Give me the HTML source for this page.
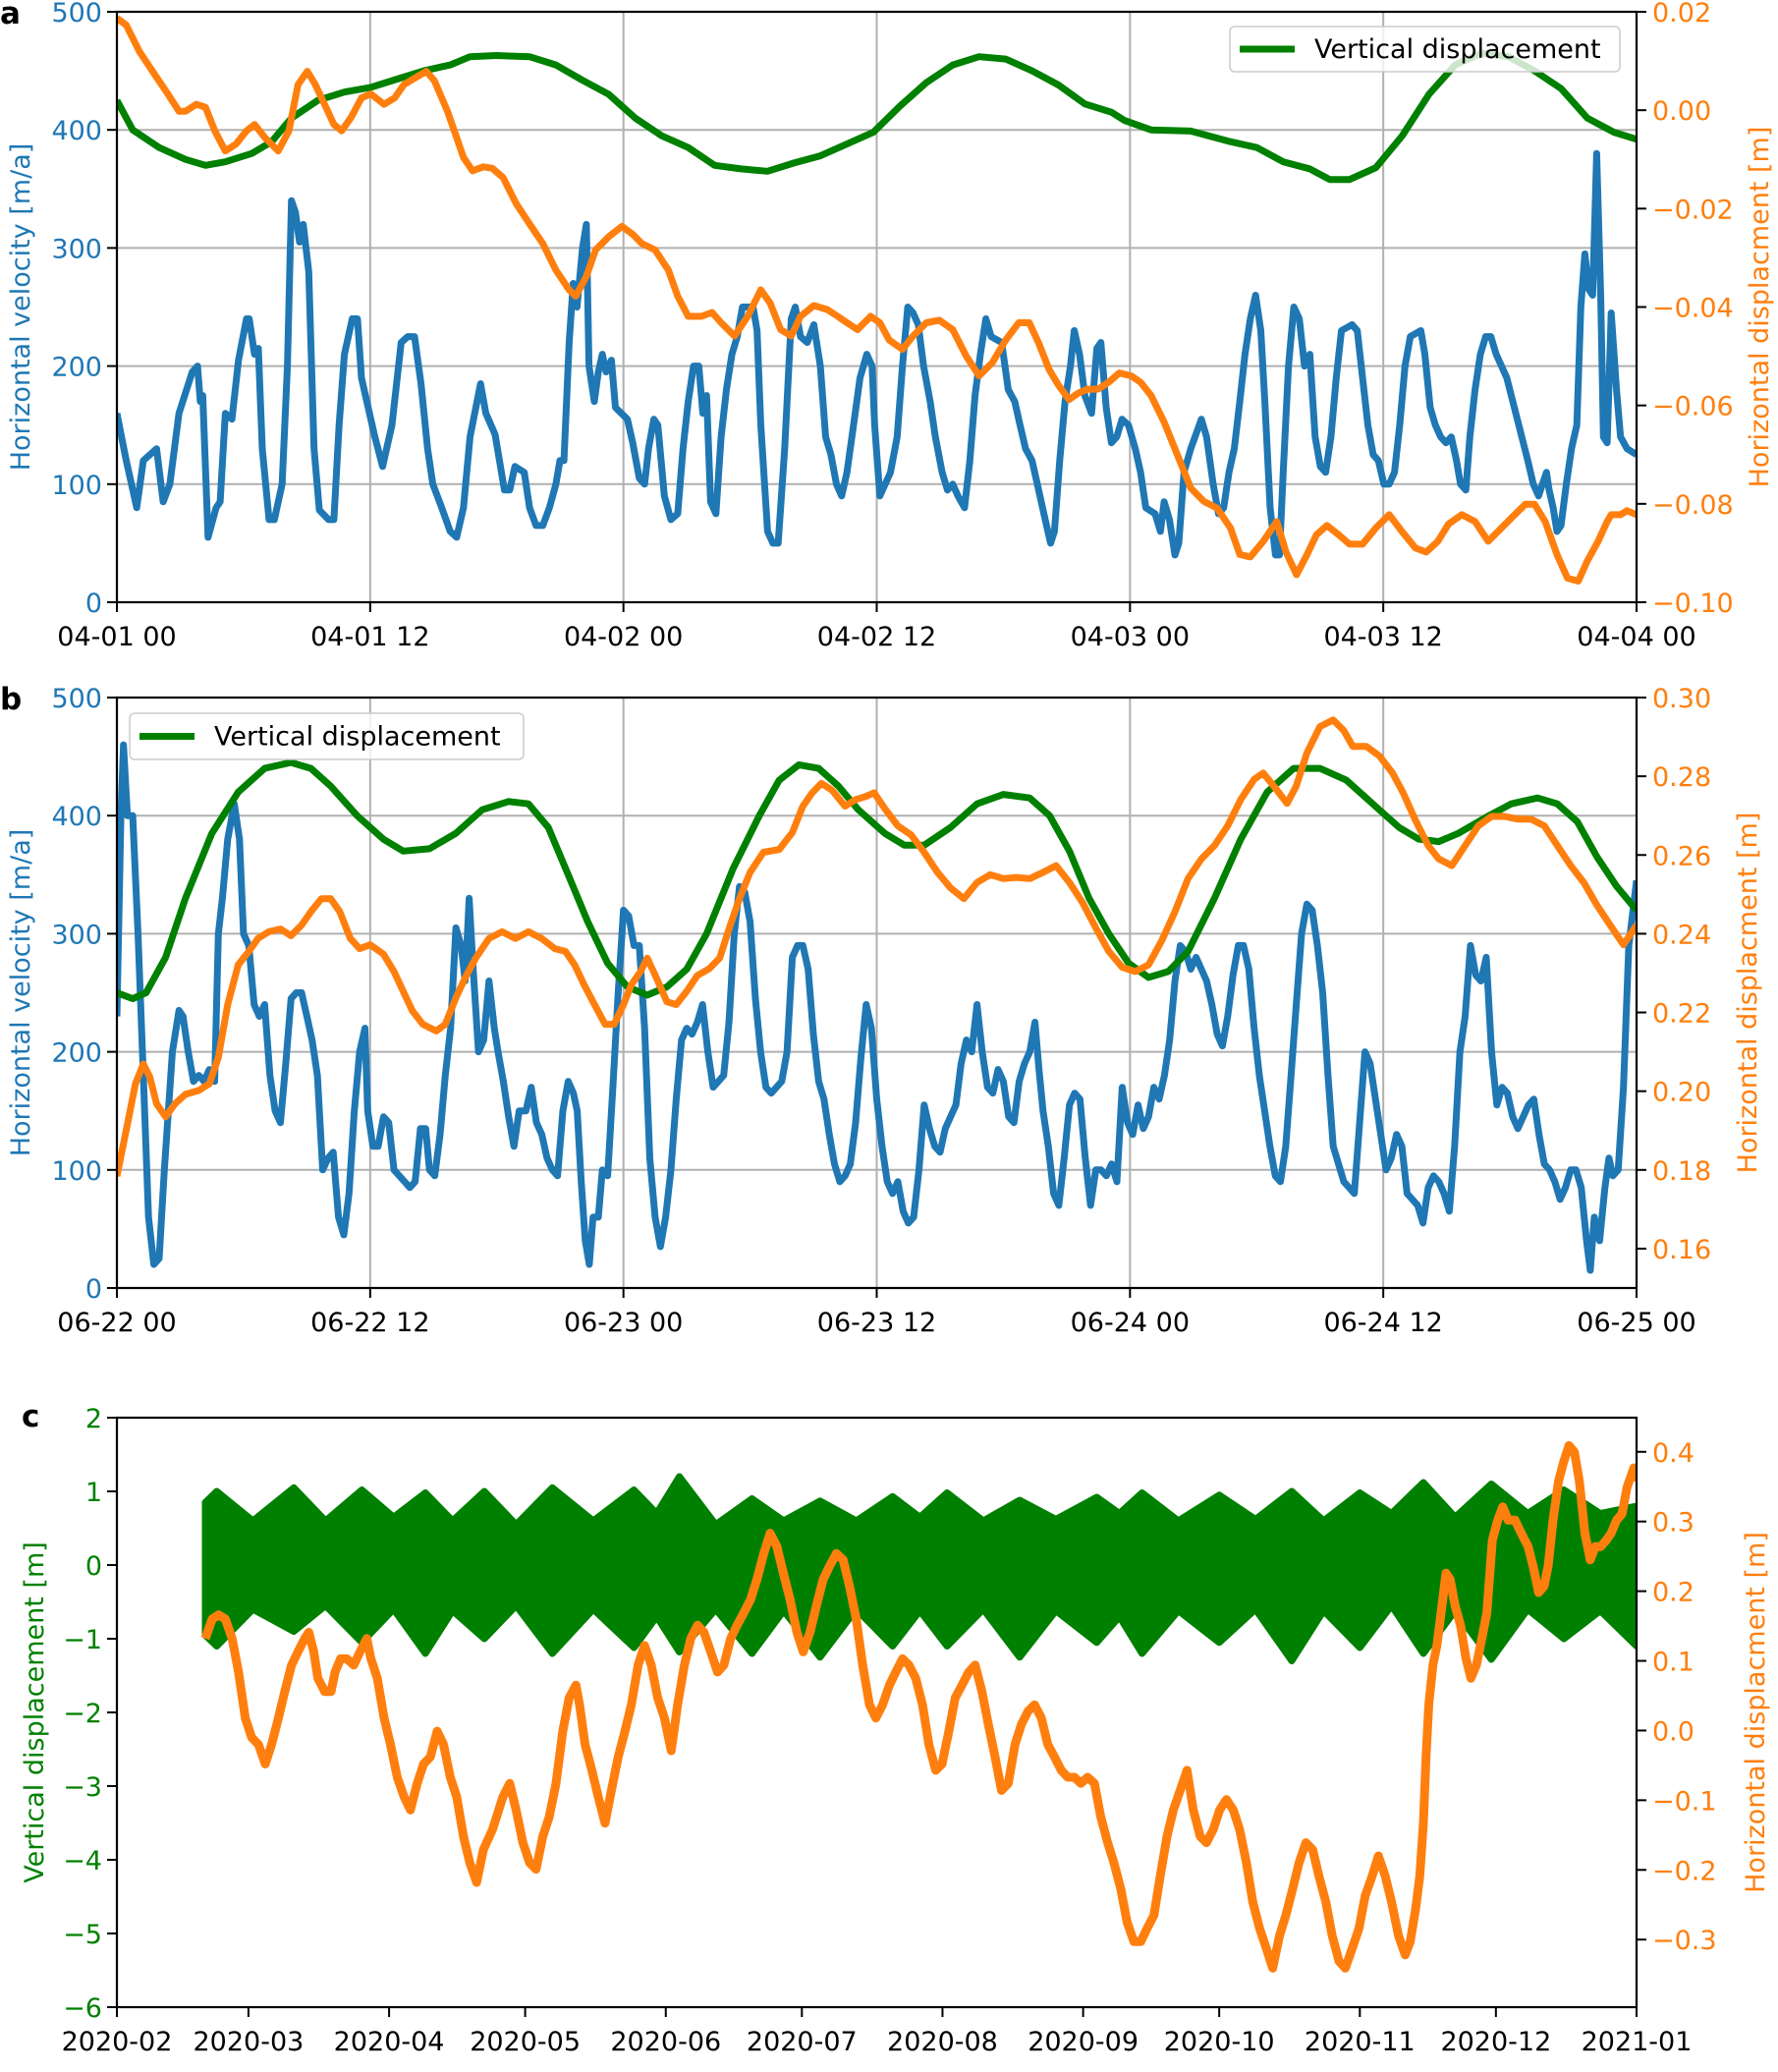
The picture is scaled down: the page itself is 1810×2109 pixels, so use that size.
<!DOCTYPE html>
<html><head><meta charset="utf-8"><style>
body{margin:0;background:#fff}
svg{display:block;font-family:"DejaVu Sans","Liberation Sans",sans-serif}
</style></head><body>
<svg id="fig" width="1810" height="2109" viewBox="0 0 1810 2109" xmlns="http://www.w3.org/2000/svg"></svg>
<script>
// ---------- Panel a data (hours since 04-01 00) ----------
const aVelocity = [[0,160],[0.44,120],[0.94,80],[1.25,120],[1.88,130],[2.19,85],[2.51,100],[2.94,160],[3.57,195],[3.82,200],[3.95,170],[4.07,175],[4.32,55],[4.70,80],[4.89,85],[5.14,160],[5.45,155],[5.76,205],[6.14,240],[6.27,240],[6.52,210],[6.70,215],[6.89,130],[7.21,70],[7.46,70],[7.83,100],[8.08,200],[8.27,340],[8.46,330],[8.65,305],[8.83,320],[9.09,280],[9.34,130],[9.59,78],[10.03,70],[10.28,70],[10.53,150],[10.78,210],[11.15,240],[11.40,240],[11.59,190],[11.84,170],[12.22,140],[12.59,115],[13.03,150],[13.47,220],[13.78,225],[14.10,225],[14.41,185],[14.72,130],[14.97,100],[15.35,82],[15.79,60],[16.10,55],[16.42,80],[16.73,140],[17.23,185],[17.48,160],[17.92,142],[18.36,95],[18.61,95],[18.86,115],[19.30,110],[19.55,80],[19.86,65],[20.18,65],[20.49,80],[20.80,100],[20.99,120],[21.18,120],[21.43,220],[21.62,270],[21.80,250],[22.06,300],[22.24,320],[22.37,200],[22.62,170],[22.81,195],[23.00,210],[23.18,195],[23.43,205],[23.62,165],[24.19,155],[24.44,135],[24.75,105],[25.00,100],[25.19,130],[25.44,155],[25.63,150],[25.94,90],[26.25,70],[26.57,75],[26.82,130],[27.07,170],[27.32,200],[27.57,200],[27.76,160],[27.94,175],[28.13,85],[28.38,75],[28.63,140],[28.88,180],[29.14,210],[29.39,225],[29.64,250],[30.14,250],[30.33,230],[30.51,150],[30.83,60],[31.08,50],[31.33,50],[31.64,130],[31.95,240],[32.14,250],[32.39,225],[32.71,220],[33.02,235],[33.33,200],[33.58,140],[33.83,125],[34.09,100],[34.34,90],[34.59,110],[34.90,150],[35.21,190],[35.53,210],[35.78,200],[35.90,150],[36.15,90],[36.40,100],[36.65,110],[36.97,140],[37.22,200],[37.47,250],[37.72,245],[37.97,235],[38.22,200],[38.53,170],[38.78,140],[39.10,110],[39.35,95],[39.60,100],[39.85,90],[40.16,80],[40.41,120],[40.66,175],[40.91,210],[41.17,240],[41.42,225],[41.92,220],[42.23,180],[42.54,170],[42.79,150],[43.05,130],[43.36,120],[43.61,100],[43.98,70],[44.24,50],[44.42,60],[44.67,120],[44.92,170],[45.18,200],[45.36,230],[45.61,210],[45.86,175],[46.18,160],[46.43,215],[46.62,220],[46.87,165],[47.12,135],[47.37,140],[47.62,155],[47.93,150],[48.25,130],[48.50,110],[48.75,80],[49.19,75],[49.44,60],[49.62,85],[49.87,70],[50.13,40],[50.31,50],[50.56,110],[50.88,130],[51.38,155],[51.63,140],[51.94,100],[52.19,75],[52.44,80],[52.69,110],[52.94,130],[53.20,170],[53.45,210],[53.70,240],[53.95,260],[54.20,230],[54.39,170],[54.64,80],[54.89,40],[55.08,40],[55.26,110],[55.51,200],[55.76,250],[56.02,240],[56.27,200],[56.52,210],[56.77,140],[57.02,115],[57.27,110],[57.52,140],[57.77,190],[58.02,230],[58.52,235],[58.77,230],[59.02,190],[59.27,150],[59.52,125],[59.77,120],[60.03,100],[60.28,100],[60.53,110],[60.78,150],[61.03,200],[61.28,225],[61.78,230],[61.97,210],[62.22,165],[62.47,150],[62.72,140],[62.97,135],[63.22,140],[63.47,120],[63.66,100],[63.91,95],[64.10,140],[64.35,180],[64.60,210],[64.85,225],[65.10,225],[65.35,210],[65.85,190],[66.35,155],[66.85,120],[67.11,100],[67.36,90],[67.54,100],[67.73,110],[67.86,95],[68.05,80],[68.23,60],[68.42,65],[68.67,100],[68.92,130],[69.17,150],[69.36,250],[69.55,295],[69.74,265],[69.92,260],[70.11,380],[70.30,260],[70.43,140],[70.61,135],[70.80,245],[71.05,180],[71.24,140],[71.55,130],[72,125]];
const aHorizDisp = [[0,0.0187],[0.44,0.0173],[1.07,0.0119],[1.69,0.0079],[2.32,0.0039],[2.94,-0.0002],[3.26,-0.0002],[3.76,0.0012],[4.2,0.0006],[4.64,-0.0042],[5.14,-0.0083],[5.64,-0.0069],[6.14,-0.0042],[6.52,-0.0029],[7.02,-0.0056],[7.64,-0.0083],[8.15,-0.0042],[8.58,0.0052],[9.02,0.0079],[9.4,0.0052],[9.84,0.0012],[10.28,-0.0029],[10.65,-0.0042],[11.09,-0.0015],[11.59,0.0025],[12.03,0.0033],[12.66,0.0012],[13.16,0.0025],[13.6,0.0052],[14.1,0.0065],[14.66,0.0079],[15.04,0.0060],[15.66,-0.0002],[16.1,-0.0056],[16.42,-0.0096],[16.85,-0.0123],[17.36,-0.0115],[17.79,-0.0118],[18.3,-0.0137],[18.92,-0.019],[19.55,-0.0231],[20.18,-0.0271],[20.8,-0.0325],[21.43,-0.0365],[21.74,-0.0378],[22.24,-0.0338],[22.68,-0.0284],[23.31,-0.0257],[23.93,-0.0236],[24.44,-0.0252],[24.87,-0.0271],[25.5,-0.0284],[26.13,-0.0325],[26.57,-0.0378],[27.07,-0.0419],[27.69,-0.0419],[28.2,-0.0411],[28.63,-0.0432],[29.26,-0.0459],[29.89,-0.0419],[30.51,-0.0365],[30.95,-0.0392],[31.45,-0.0446],[31.95,-0.0459],[32.39,-0.0419],[33.02,-0.0397],[33.65,-0.0405],[34.15,-0.0419],[34.59,-0.0432],[35.09,-0.0446],[35.71,-0.0419],[36.15,-0.0432],[36.59,-0.0467],[37.22,-0.0486],[37.72,-0.0459],[38.35,-0.0432],[38.97,-0.0427],[39.6,-0.0446],[40.23,-0.0499],[40.85,-0.054],[41.48,-0.0513],[42.11,-0.0467],[42.73,-0.0432],[43.23,-0.0432],[43.67,-0.0473],[44.17,-0.0527],[44.61,-0.0559],[45.11,-0.0588],[45.55,-0.0575],[45.99,-0.0567],[46.49,-0.0567],[46.99,-0.0553],[47.49,-0.0534],[48.06,-0.054],[48.5,-0.0553],[49,-0.058],[49.62,-0.0634],[50.25,-0.0701],[50.88,-0.0768],[51.5,-0.0795],[52.13,-0.0809],[52.76,-0.0849],[53.2,-0.0903],[53.7,-0.0908],[54.32,-0.0876],[54.95,-0.0836],[55.39,-0.0898],[55.89,-0.0944],[56.39,-0.0903],[56.83,-0.0863],[57.33,-0.0844],[57.89,-0.0863],[58.4,-0.0882],[59.02,-0.0882],[59.65,-0.0849],[60.28,-0.0822],[60.9,-0.0857],[61.53,-0.0890],[62.03,-0.0898],[62.59,-0.0876],[63.09,-0.0841],[63.72,-0.0822],[64.35,-0.0836],[64.97,-0.0876],[65.6,-0.0849],[66.23,-0.0822],[66.73,-0.0801],[67.17,-0.0801],[67.67,-0.0836],[68.23,-0.0903],[68.73,-0.0951],[69.24,-0.0957],[69.67,-0.0916],[70.18,-0.0876],[70.61,-0.0836],[70.8,-0.0822],[71.24,-0.0822],[71.55,-0.0814],[72,-0.0822]];
// vertical displacement drawn on the velocity axis scale (as in the figure)
const aVertical = [[0,425],[0.75,400],[2,385],[3.26,375],[4.2,370],[5.14,373],[6.39,380],[7.33,390],[8.27,410],[9.52,425],[10.78,432],[12.03,436],[13.28,443],[14.54,450],[15.79,455],[16.73,462],[17.98,463],[19.55,462],[20.8,455],[22.06,442],[23.31,430],[24.56,410],[25.81,395],[27.07,385],[28.32,370],[29.57,367],[30.83,365],[32.08,372],[33.33,378],[34.59,388],[35.84,398],[37.09,420],[38.35,440],[39.6,455],[40.85,462],[42.11,460],[43.36,450],[44.61,438],[45.86,422],[47.12,415],[47.74,408],[49,400],[50.88,399],[52.76,390],[54.01,385],[55.26,373],[56.52,367],[57.46,358],[58.4,358],[59.65,368],[60.9,395],[62.16,430],[63.41,455],[64.66,465],[65.92,462],[67.17,450],[68.42,435],[69.67,410],[70.93,398],[72,392]];
const aXTicks = ["04-01 00","04-01 12","04-02 00","04-02 12","04-03 00","04-03 12","04-04 00"];
const aLeftTicks = [0,100,200,300,400,500];
const aRightTicks = [0.02,0.00,-0.02,-0.04,-0.06,-0.08,-0.10];

// ---------- Panel b data (hours since 06-22 00) ----------
const bVelocity = [[0,230],[0.19,400],[0.31,460],[0.5,400],[0.75,400],[1,300],[1.25,180],[1.5,60],[1.75,20],[2,25],[2.25,100],[2.63,200],[2.94,235],[3.13,230],[3.38,200],[3.63,175],[3.88,180],[4.13,175],[4.38,185],[4.63,175],[4.81,300],[5,330],[5.25,380],[5.56,410],[5.81,380],[6,300],[6.25,290],[6.5,240],[6.75,230],[7,240],[7.25,180],[7.5,150],[7.75,140],[8,190],[8.25,245],[8.5,250],[8.75,250],[9,230],[9.25,210],[9.5,180],[9.75,100],[10,110],[10.25,115],[10.5,60],[10.75,45],[11,80],[11.25,150],[11.5,200],[11.75,220],[11.88,150],[12.13,120],[12.38,120],[12.63,145],[12.88,140],[13.13,100],[13.38,95],[13.63,90],[13.88,85],[14.13,90],[14.38,135],[14.63,135],[14.81,100],[15.06,95],[15.31,130],[15.56,180],[15.81,220],[16.06,305],[16.31,290],[16.5,260],[16.69,330],[16.88,270],[17.13,200],[17.38,210],[17.63,260],[17.88,220],[18.06,200],[18.31,175],[18.56,145],[18.81,120],[19.06,150],[19.38,150],[19.63,170],[19.88,140],[20.13,130],[20.38,110],[20.63,100],[20.88,95],[21.13,150],[21.38,175],[21.63,165],[21.81,150],[22,90],[22.19,40],[22.38,20],[22.56,60],[22.81,60],[23,100],[23.25,95],[23.5,170],[23.75,250],[24,320],[24.25,315],[24.5,290],[24.75,290],[25,220],[25.25,110],[25.5,60],[25.75,35],[26,60],[26.25,100],[26.5,160],[26.75,210],[27,220],[27.25,215],[27.5,225],[27.75,240],[28,200],[28.25,170],[28.5,175],[28.75,180],[29,225],[29.25,300],[29.5,340],[29.75,335],[30,310],[30.25,245],[30.5,200],[30.75,170],[31,165],[31.25,170],[31.5,175],[31.75,200],[32,280],[32.25,290],[32.5,290],[32.75,270],[33,215],[33.25,175],[33.5,160],[33.75,130],[34,105],[34.25,90],[34.5,95],[34.75,105],[35,140],[35.25,195],[35.5,240],[35.75,220],[36,160],[36.25,120],[36.5,90],[36.75,80],[37,90],[37.25,65],[37.5,55],[37.75,60],[38,100],[38.25,155],[38.5,135],[38.75,120],[39,115],[39.25,135],[39.5,145],[39.75,155],[40,190],[40.25,210],[40.5,200],[40.75,240],[41,200],[41.25,170],[41.5,165],[41.75,185],[42,175],[42.25,145],[42.5,140],[42.75,175],[43,190],[43.25,200],[43.5,225],[43.69,185],[43.88,150],[44.13,120],[44.38,80],[44.63,70],[44.88,110],[45.13,155],[45.38,165],[45.63,160],[45.88,110],[46.13,70],[46.38,100],[46.63,100],[46.88,95],[47.13,105],[47.38,90],[47.63,170],[47.88,140],[48.13,130],[48.38,155],[48.63,135],[48.88,145],[49.13,170],[49.38,160],[49.63,180],[49.88,210],[50.13,260],[50.38,290],[50.63,285],[50.88,270],[51.13,280],[51.38,270],[51.63,260],[51.88,240],[52.13,215],[52.38,205],[52.63,230],[52.88,265],[53.13,290],[53.38,290],[53.63,270],[53.88,220],[54.13,180],[54.38,150],[54.63,120],[54.88,95],[55.13,90],[55.38,120],[55.63,180],[55.88,240],[56.13,300],[56.38,325],[56.63,320],[56.88,290],[57.13,250],[57.38,180],[57.63,120],[57.88,105],[58.13,90],[58.38,85],[58.63,80],[58.88,140],[59.13,200],[59.38,190],[59.63,160],[59.88,130],[60.13,100],[60.38,110],[60.63,130],[60.88,120],[61.13,80],[61.38,75],[61.63,70],[61.88,55],[62.13,85],[62.38,95],[62.63,90],[62.88,80],[63.13,65],[63.38,120],[63.63,200],[63.88,230],[64.13,290],[64.38,265],[64.63,260],[64.88,280],[65.13,200],[65.38,155],[65.63,170],[65.88,165],[66.13,145],[66.38,135],[66.63,145],[66.88,155],[67.13,160],[67.38,130],[67.63,105],[67.88,100],[68.13,90],[68.38,75],[68.63,85],[68.88,100],[69.13,100],[69.38,85],[69.63,40],[69.81,15],[70,60],[70.25,40],[70.5,85],[70.69,110],[70.88,95],[71.13,100],[71.38,170],[71.63,290],[72,345]];
const bHorizDisp = [[0,0.1784],[0.44,0.1901],[0.88,0.2019],[1.25,0.2069],[1.56,0.2036],[1.88,0.1968],[2.31,0.1935],[2.75,0.1968],[3.25,0.1992],[3.88,0.2002],[4.38,0.2019],[4.81,0.2086],[5.25,0.2220],[5.75,0.2321],[6.25,0.2355],[6.69,0.2388],[7.19,0.2405],[7.75,0.2412],[8.25,0.2395],[8.75,0.2422],[9.19,0.2456],[9.69,0.2489],[10.13,0.2489],[10.56,0.2456],[11.06,0.2388],[11.5,0.2362],[12,0.2372],[12.63,0.2348],[13.13,0.2304],[13.56,0.2254],[14,0.2204],[14.5,0.2170],[15.13,0.2153],[15.56,0.2170],[16.06,0.2237],[16.5,0.2288],[17,0.2338],[17.63,0.2388],[18.25,0.2405],[18.88,0.2388],[19.5,0.2405],[20.13,0.2388],[20.75,0.2362],[21.25,0.2355],[21.69,0.2321],[22.13,0.2271],[22.63,0.2220],[23.13,0.2170],[23.56,0.2170],[24,0.2220],[24.38,0.2271],[24.81,0.2304],[25.13,0.2338],[25.56,0.2288],[26.06,0.2227],[26.5,0.2220],[27,0.2254],[27.5,0.2294],[28.06,0.2311],[28.56,0.2338],[29.06,0.2422],[29.5,0.2489],[30,0.2556],[30.63,0.2607],[31.38,0.2614],[32,0.2657],[32.5,0.2724],[32.94,0.2758],[33.38,0.2782],[33.88,0.2765],[34.5,0.2724],[35,0.2741],[35.44,0.2748],[35.88,0.2758],[36.38,0.2718],[37,0.2674],[37.63,0.2651],[38.25,0.2607],[38.88,0.2556],[39.5,0.2516],[40.13,0.2489],[40.75,0.2530],[41.38,0.2550],[42,0.2540],[42.63,0.2543],[43.25,0.2540],[43.88,0.2556],[44.5,0.2573],[45.13,0.2530],[45.75,0.2479],[46.38,0.2415],[47,0.2355],[47.63,0.2315],[48.25,0.2304],[48.88,0.2321],[49.5,0.2382],[50.13,0.2456],[50.75,0.2540],[51.38,0.2590],[52,0.2624],[52.63,0.2674],[53.25,0.2741],[53.88,0.2792],[54.31,0.2808],[54.81,0.2775],[55.44,0.2731],[55.88,0.2775],[56.38,0.2859],[57,0.2926],[57.63,0.2943],[58.13,0.2916],[58.56,0.2876],[59.19,0.2876],[59.81,0.2852],[60.44,0.2808],[60.94,0.2758],[61.5,0.2691],[62.13,0.2624],[62.63,0.2590],[63.25,0.2573],[63.88,0.2624],[64.5,0.2674],[65.13,0.2698],[65.75,0.2698],[66.38,0.2691],[67,0.2691],[67.63,0.2674],[68.25,0.2624],[68.88,0.2573],[69.5,0.2530],[70.13,0.2472],[70.75,0.2422],[71.38,0.2372],[72,0.2422]];
const bVertical = [[0,250],[0.75,245],[1.38,250],[2.31,280],[3.25,330],[4.5,385],[5.75,420],[7,440],[8.25,445],[9.19,440],[10.13,425],[11.38,400],[12.63,380],[13.56,370],[14.81,372],[16.06,385],[17.31,405],[18.56,412],[19.5,410],[20.44,390],[21.38,350],[22.31,310],[23.25,275],[24.19,255],[25.13,248],[26.06,255],[27,270],[27.94,300],[29.19,355],[30.44,400],[31.38,430],[32.31,443],[33.25,440],[34.19,425],[35.13,405],[36.38,385],[37.31,375],[38.25,375],[39.5,390],[40.75,410],[42,418],[43.25,415],[44.19,400],[45.13,370],[46.06,330],[47,300],[47.94,275],[48.88,263],[49.81,268],[50.75,285],[52,330],[53.25,380],[54.5,420],[55.75,440],[57,440],[58.25,430],[59.5,410],[60.75,390],[61.69,380],[62.63,378],[63.56,385],[64.81,398],[66.06,410],[67.31,415],[68.25,410],[69.19,395],[70.13,365],[71.06,340],[72,320]];
const bXTicks = ["06-22 00","06-22 12","06-23 00","06-23 12","06-24 00","06-24 12","06-25 00"];
const bLeftTicks = [0,100,200,300,400,500];
const bRightTicks = [0.30,0.28,0.26,0.24,0.22,0.20,0.18,0.16];

// ---------- Panel c data (days since 2020-02-01) ----------
const cEnvDays  = [19.5,22,30,39,46,54,61,68,74,81,88,96,105,114,119,124,132,140,147,155,163,171,177,183,191,199,207,216,221,226,234,243,251,259,266,274,281,288,295,303,311,319,327,335];
const cEnvUpper = [0.85,1.0,0.6,1.05,0.6,1.02,0.65,0.98,0.6,1.0,0.55,1.05,0.6,1.02,0.7,1.2,0.55,0.9,0.6,0.87,0.6,0.93,0.65,0.98,0.6,0.88,0.62,0.92,0.7,0.98,0.6,0.95,0.62,1.0,0.6,0.98,0.7,1.12,0.65,1.1,0.7,1.02,0.7,0.8];
const cEnvLower = [-0.95,-1.1,-0.6,-0.9,-0.55,-1.05,-0.6,-1.2,-0.62,-1.0,-0.55,-1.2,-0.6,-1.12,-0.7,-1.18,-0.6,-1.2,-0.62,-1.25,-0.6,-1.1,-0.62,-1.1,-0.6,-1.25,-0.62,-1.05,-0.7,-1.2,-0.62,-1.05,-0.6,-1.3,-0.62,-1.12,-0.55,-1.2,-0.62,-1.28,-0.6,-1.0,-0.62,-1.1];
const cHorizDisp = [[19.5,0.132],[21.0,0.160],[22.4,0.166],[23.9,0.160],[25.4,0.132],[26.8,0.084],[28.3,0.018],[29.7,-0.010],[31.2,-0.020],[32.7,-0.048],[34.1,-0.020],[35.6,0.018],[37.0,0.056],[38.5,0.094],[39.9,0.113],[41.4,0.132],[42.3,0.141],[43.4,0.113],[44.3,0.075],[45.8,0.056],[47.2,0.056],[48.1,0.084],[49.3,0.103],[50.7,0.103],[52.2,0.094],[53.6,0.113],[55.1,0.132],[56.0,0.103],[57.4,0.075],[58.9,0.018],[60.3,-0.020],[61.8,-0.067],[63.3,-0.095],[64.7,-0.114],[66.2,-0.076],[67.6,-0.048],[69.1,-0.038],[70.6,-0.001],[72.0,-0.020],[73.5,-0.067],[74.9,-0.095],[76.4,-0.152],[77.8,-0.190],[79.3,-0.218],[80.8,-0.171],[82.8,-0.142],[85.1,-0.095],[86.6,-0.076],[88.0,-0.114],[89.5,-0.161],[91.0,-0.190],[92.4,-0.199],[93.9,-0.152],[95.3,-0.124],[96.8,-0.076],[98.3,-0.001],[99.7,0.047],[101.2,0.065],[102.0,0.037],[103.2,-0.020],[104.7,-0.057],[106.1,-0.095],[107.6,-0.133],[109.0,-0.086],[110.5,-0.038],[112.0,-0.001],[113.4,0.037],[114.9,0.094],[116.3,0.122],[117.8,0.094],[119.2,0.047],[120.7,0.018],[122.2,-0.029],[123.6,0.037],[125.1,0.094],[126.5,0.132],[128.0,0.151],[129.4,0.141],[130.9,0.113],[132.4,0.084],[133.8,0.094],[135.3,0.132],[136.7,0.151],[138.2,0.169],[139.7,0.188],[141.1,0.217],[142.6,0.254],[144.0,0.283],[145.5,0.264],[146.9,0.226],[148.4,0.188],[149.9,0.141],[151.3,0.113],[152.8,0.141],[154.2,0.179],[155.7,0.217],[157.1,0.236],[158.6,0.254],[160.1,0.245],[161.5,0.207],[163.0,0.160],[164.4,0.094],[165.9,0.037],[167.3,0.018],[168.8,0.037],[170.3,0.065],[171.7,0.084],[173.2,0.103],[174.6,0.094],[176.1,0.075],[177.6,0.037],[179.0,-0.020],[180.5,-0.057],[181.9,-0.048],[183.4,-0.001],[184.8,0.047],[186.3,0.065],[187.8,0.084],[189.2,0.094],[190.7,0.056],[192.1,0.009],[193.6,-0.038],[195.0,-0.086],[196.5,-0.076],[198.0,-0.020],[199.4,0.009],[200.9,0.028],[202.3,0.037],[203.8,0.018],[205.2,-0.020],[206.7,-0.038],[208.2,-0.057],[209.6,-0.067],[211.1,-0.067],[212.5,-0.076],[214.0,-0.067],[215.5,-0.076],[216.9,-0.124],[218.4,-0.161],[219.8,-0.190],[221.3,-0.227],[222.7,-0.275],[224.2,-0.303],[225.7,-0.303],[227.1,-0.284],[228.6,-0.265],[230.0,-0.209],[231.5,-0.152],[232.9,-0.114],[234.4,-0.086],[235.9,-0.057],[237.3,-0.114],[238.8,-0.152],[240.2,-0.161],[241.7,-0.142],[243.1,-0.114],[244.6,-0.099],[246.1,-0.114],[247.5,-0.142],[249.0,-0.190],[250.4,-0.246],[251.9,-0.284],[253.4,-0.313],[254.8,-0.341],[256.3,-0.294],[257.7,-0.265],[259.2,-0.227],[260.6,-0.190],[262.1,-0.161],[263.6,-0.171],[265.0,-0.209],[266.5,-0.246],[267.9,-0.294],[269.4,-0.331],[270.8,-0.341],[272.3,-0.313],[273.8,-0.284],[275.2,-0.237],[276.7,-0.209],[278.1,-0.180],[279.6,-0.209],[281.0,-0.246],[282.5,-0.294],[284.0,-0.322],[285.1,-0.303],[286.3,-0.256],[287.2,-0.209],[288.0,-0.133],[288.6,-0.038],[289.2,0.037],[290.1,0.094],[291.0,0.122],[292.1,0.179],[293.0,0.226],[293.9,0.217],[295.0,0.179],[296.2,0.151],[297.4,0.103],[298.5,0.075],[299.7,0.094],[300.9,0.132],[302.0,0.169],[303.2,0.273],[304.4,0.302],[305.5,0.321],[306.7,0.302],[308.2,0.302],[309.6,0.283],[311.1,0.264],[312.2,0.236],[313.4,0.198],[314.6,0.207],[315.5,0.236],[316.6,0.302],[317.8,0.358],[319.0,0.387],[320.1,0.409],[321.3,0.400],[322.4,0.358],[323.6,0.283],[324.8,0.245],[325.9,0.264],[327.1,0.264],[328.3,0.273],[329.4,0.283],[330.6,0.302],[331.8,0.311],[332.9,0.349],[334.4,0.377],[335.0,0.358]];
const cXTickDays = [0,29,60,90,121,151,182,213,243,274,304,335];
const cXTicks = ["2020-02","2020-03","2020-04","2020-05","2020-06","2020-07","2020-08","2020-09","2020-10","2020-11","2020-12","2021-01"];
const cLeftTicks = [2,1,0,-1,-2,-3,-4,-5,-6];
const cRightTicks = [0.4,0.3,0.2,0.1,0.0,-0.1,-0.2,-0.3];

// ---------- drawing ----------
const NS = "http://www.w3.org/2000/svg";
const svg = document.getElementById('fig');
const BLUE = "#1f77b4", ORANGE = "#ff7f0e", GREEN = "#008000";
const LW = 7;
function el(tag, attrs, parent) {
  const e = document.createElementNS(NS, tag);
  for (const k in attrs) e.setAttribute(k, attrs[k]);
  (parent || svg).appendChild(e);
  return e;
}
function fmt(v, d) { const s = Math.abs(v).toFixed(d); return (v < 0 ? "\u2212" : "") + s; }
function lin(d0, d1, r0, r1) { return v => r0 + (v - d0) / (d1 - d0) * (r1 - r0); }
function pathOf(pairs, sx, sy) { return pairs.map((p, i) => (i ? "L" : "M") + sx(p[0]).toFixed(1) + "," + sy(p[1]).toFixed(1)).join(""); }

const L = 119, R = 1666;

function panel(cfg) {
  const g = el('g', {});
  
  
  const {t, b} = cfg;
  const sx = lin(cfg.x0, cfg.x1, L, R);
  const syL = lin(cfg.yl0, cfg.yl1, b, t);
  const syR = lin(cfg.yr0, cfg.yr1, b, t);
  const clip = el('clipPath', {id: 'clip-' + cfg.name}, g);
  el('rect', {x: L, y: t, width: R - L, height: b - t}, clip);
  if (cfg.grid) {
    const gg = el('g', {}, g);
    
    
    cfg.xTickVals.forEach(v => el('line', {x1: sx(v), x2: sx(v), y1: t, y2: b, stroke: '#b0b0b0', 'stroke-width': 2}, gg));
    cfg.leftTicks.forEach(v => el('line', {x1: L, x2: R, y1: syL(v), y2: syL(v), stroke: '#b0b0b0', 'stroke-width': 2}, gg));
  }
  const plot = el('g', {'clip-path': 'url(#clip-' + cfg.name + ')'}, g);
  cfg.draw(plot, sx, syL, syR);
  const fr = el('rect', {x: L, y: t, width: R - L, height: b - t, fill: 'none', stroke: '#000', 'stroke-width': 2.2}, g);
  
  
  cfg.xTickVals.forEach((v, i) => {
    el('line', {x1: sx(v), x2: sx(v), y1: b, y2: b + 10, stroke: '#000', 'stroke-width': 2}, g);
    const tx = el('text', {x: sx(v), y: b + 44, 'font-size': 27, 'text-anchor': 'middle', fill: '#000'}, g);
    tx.textContent = cfg.xTickLabels[i];
    
    
  });
  cfg.leftTicks.forEach(v => {
    el('line', {x1: L - 10, x2: L, y1: syL(v), y2: syL(v), stroke: '#000', 'stroke-width': 2}, g);
    const tx = el('text', {x: L - 15, y: syL(v) + 10, 'font-size': 27, 'text-anchor': 'end', fill: cfg.leftColor}, g);
    tx.textContent = fmt(v, cfg.leftDec);
    
    
  });
  cfg.rightTicks.forEach(v => {
    el('line', {x1: R, x2: R + 10, y1: syR(v), y2: syR(v), stroke: '#000', 'stroke-width': 2}, g);
    const tx = el('text', {x: R + 16, y: syR(v) + 10, 'font-size': 27, 'text-anchor': 'start', fill: ORANGE}, g);
    tx.textContent = fmt(v, cfg.rightDec);
    
    
  });
  const cy = (t + b) / 2;
  const yl = el('text', {x: cfg.leftLabelX, y: cy, 'font-size': 27, 'text-anchor': 'middle', fill: cfg.leftColor, transform: `rotate(-90 ${cfg.leftLabelX} ${cy})`}, g);
  yl.textContent = cfg.leftLabel;
  
  
  const yr = el('text', {x: cfg.rightLabelX, y: cy, 'font-size': 27, 'text-anchor': 'middle', fill: ORANGE, transform: `rotate(-90 ${cfg.rightLabelX} ${cy})`}, g);
  yr.textContent = "Horizontal displacment [m]";
  
  
  const lt = el('text', {x: cfg.letterX, y: cfg.letterY, 'font-size': 31, 'font-weight': 'bold', fill: '#000'}, g);
  lt.textContent = cfg.letter;
  
  
  return g;
}

function legend(x, y, w, h) {
  const g = el('g', {});
  
  
  el('rect', {x, y, width: w, height: h, rx: 5, fill: '#fff', 'fill-opacity': 0.8, stroke: '#cccccc', 'stroke-width': 1.5}, g);
  el('line', {x1: x + 10, x2: x + 66, y1: y + h / 2, y2: y + h / 2, stroke: GREEN, 'stroke-width': LW}, g);
  const t = el('text', {x: x + 86, y: y + h / 2 + 9, 'font-size': 27, fill: '#000'}, g);
  t.textContent = "Vertical displacement";
  
  
}

const hTicks = [0, 12, 24, 36, 48, 60, 72];

function drawAB(p, sx, syL, syR, vel, vert, hor) {
  const s1 = el('path', {d: pathOf(vel, sx, syL), fill: 'none', stroke: BLUE, 'stroke-width': LW, 'stroke-linejoin': 'round'}, p);
   
  const s3 = el('path', {d: pathOf(vert, sx, syL), fill: 'none', stroke: GREEN, 'stroke-width': LW, 'stroke-linejoin': 'round'}, p);
   
  const s2 = el('path', {d: pathOf(hor, sx, syR), fill: 'none', stroke: ORANGE, 'stroke-width': LW, 'stroke-linejoin': 'round'}, p);
   
}

panel({name: 'panel-a', letter: 'a', letterX: 0, letterY: 24, t: 12, b: 613, grid: true,
  x0: 0, x1: 72, yl0: 0, yl1: 500, yr0: -0.10, yr1: 0.02,
  xTickVals: hTicks, xTickLabels: aXTicks, leftTicks: aLeftTicks, rightTicks: aRightTicks,
  leftDec: 0, rightDec: 2, leftColor: BLUE, leftLabel: "Horizontal velocity [m/a]", leftLabelX: 30, rightLabelX: 1800,
  draw(p, sx, syL, syR) { drawAB(p, sx, syL, syR, aVelocity, aVertical, aHorizDisp); }});
legend(1252, 27, 397, 46);

panel({name: 'panel-b', letter: 'b', letterX: 0, letterY: 722, t: 710, b: 1311, grid: true,
  x0: 0, x1: 72, yl0: 0, yl1: 500, yr0: 0.15, yr1: 0.30,
  xTickVals: hTicks, xTickLabels: bXTicks, leftTicks: bLeftTicks, rightTicks: bRightTicks,
  leftDec: 0, rightDec: 2, leftColor: BLUE, leftLabel: "Horizontal velocity [m/a]", leftLabelX: 30, rightLabelX: 1788,
  draw(p, sx, syL, syR) { drawAB(p, sx, syL, syR, bVelocity, bVertical, bHorizDisp); }});
legend(132, 726, 401, 47);

panel({name: 'panel-c', letter: 'c', letterX: 22, letterY: 1452, t: 1443, b: 2043, grid: false,
  x0: 0, x1: 335, yl0: -6, yl1: 2, yr0: -0.397, yr1: 0.449,
  xTickVals: cXTickDays, xTickLabels: cXTicks, leftTicks: cLeftTicks, rightTicks: cRightTicks,
  leftDec: 0, rightDec: 1, leftColor: GREEN, leftLabel: "Vertical displacement [m]", leftLabelX: 44, rightLabelX: 1796,
  draw(p, sx, syL, syR) {
    let d = "";
    cEnvDays.forEach((v, i) => { d += (i ? "L" : "M") + sx(v).toFixed(1) + "," + syL(cEnvUpper[i]).toFixed(1); });
    for (let i = cEnvDays.length - 1; i >= 0; i--) d += "L" + sx(cEnvDays[i]).toFixed(1) + "," + syL(cEnvLower[i]).toFixed(1);
    d += "Z";
    const band = el('path', {d, fill: GREEN, stroke: GREEN, 'stroke-width': 7, 'stroke-linejoin': 'round'}, p);
    
    
    const s2 = el('path', {d: pathOf(cHorizDisp, sx, syR), fill: 'none', stroke: ORANGE, 'stroke-width': 9, 'stroke-linejoin': 'round'}, p);
    
    
  }});
</script>
</body></html>
